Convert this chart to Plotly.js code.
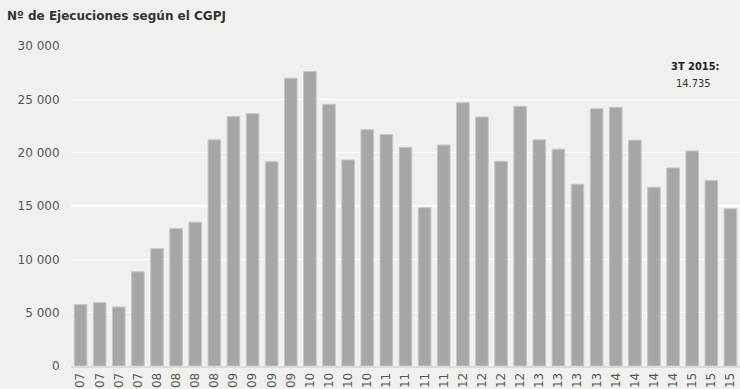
<!DOCTYPE html>
<html>
<head>
<meta charset="utf-8">
<script src="https://cdn.plot.ly/plotly-3.0.1.min.js"></script>
<style>html,body{margin:0;padding:0;background:#f0f1ee;}#chart{width:740px;height:389px;}</style>
</head>
<body>
<div id="chart"></div>
<script>
const quarters = ["1T 07","2T 07","3T 07","4T 07","1T 08","2T 08","3T 08","4T 08","1T 09","2T 09","3T 09","4T 09",
"1T 10","2T 10","3T 10","4T 10","1T 11","2T 11","3T 11","4T 11","1T 12","2T 12","3T 12","4T 12",
"1T 13","2T 13","3T 13","4T 13","1T 14","2T 14","3T 14","4T 14","1T 15","2T 15","3T 15"];
const tickText = ["07","07","07","07","08","08","08","08","09","09","09","09","10","10","10","10",
"11","11","11","11","12","12","12","12","13","13","13","13","14","14","14","14","15","15","15"];
const ejecuciones = [5750,5940,5530,8830,11000,12900,13480,21200,23380,23650,19150,26980,
27600,24530,19310,22150,21700,20500,14840,20720,24690,23340,19190,24340,
21200,20320,17040,24120,24250,21170,16760,18570,20160,17400,14735];
const yTicks = [0,5000,10000,15000,20000,25000,30000];
const noteTitle = "3T 2015:";
const noteValue = "14.735";

Plotly.newPlot('chart', [{
  type: 'bar',
  x: quarters,
  y: ejecuciones,
  marker: {color: '#a6a6a6', line: {color: '#c6c6c6', width: 1}},
  hoverinfo: 'y'
}], {
  width: 740, height: 389,
  margin: {l: 71, r: 0, t: 46, b: 23},
  paper_bgcolor: '#f0f1ee',
  plot_bgcolor: '#f0f1ee',
  separators: ', ',
  bargap: 0.34,
  font: {family: 'DejaVu Sans, Verdana, sans-serif', color: '#555', size: 12},
  title: {text: '<b>Nº de Ejecuciones según el CGPJ</b>', x: 0, xref: 'container', xanchor: 'left',
          y: 1, yref: 'container', yanchor: 'top', pad: {l: 7, t: 12},
          font: {family: 'DejaVu Sans, Verdana, sans-serif', size: 12, color: '#333'}},
  xaxis: {
    tickmode: 'array', tickvals: quarters, ticktext: tickText,
    tickangle: -90, showgrid: false, showline: true, linecolor: '#d9dcd8', linewidth: 2,
    ticks: '', automargin: false, tickfont: {size: 12, color: '#555'}
  },
  yaxis: {
    range: [0, 30000], tickvals: yTicks, tickformat: ',d',
    showgrid: true, gridcolor: '#ffffff', gridwidth: 1.5, zeroline: false,
    ticks: 'outside', ticklen: 8, tickcolor: 'rgba(0,0,0,0)',
    automargin: false, tickfont: {size: 12, color: '#555'}
  },
  annotations: [
    {text: '<b>' + noteTitle + '</b>', x: 0.933, xref: 'paper', xanchor: 'center', y: 0.94, yref: 'paper', yanchor: 'middle',
     showarrow: false, font: {family: 'DejaVu Sans Condensed, DejaVu Sans, sans-serif', size: 11, color: '#222'}},
    {text: noteValue, x: 0.93, xref: 'paper', xanchor: 'center', y: 0.88, yref: 'paper', yanchor: 'middle', showarrow: false,
     font: {family: 'DejaVu Sans Condensed, DejaVu Sans, sans-serif', size: 11, color: '#333'}}
  ],
  showlegend: false
}, {displayModeBar: false, staticPlot: true}).then(function(gd){
  const h = gd._fullLayout._size.h, t = gd._fullLayout._size.t;
  Plotly.relayout(gd, {
    'annotations[0].y': 1 - (66 - t) / h,
    'annotations[1].y': 1 - (83 - t) / h
  });
});
</script>
</body>
</html>
